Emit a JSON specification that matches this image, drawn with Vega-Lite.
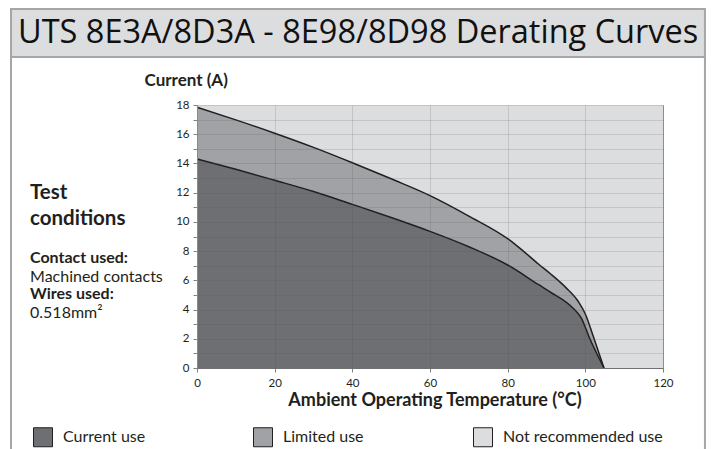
{
  "$schema": "https://vega.github.io/schema/vega-lite/v6.json",
  "width": 466,
  "height": 263,
  "autosize": {"type": "none"},
  "padding": {"left": 197, "top": 105, "right": 48, "bottom": 81},
  "background": "white",
  "config": {
    "font": "Lato",
    "view": {"stroke": "#9a9a9a", "strokeWidth": 1},
    "text": {"font": "Lato", "color": "#231f20"}
  },
  "datasets": {
    "curves": [
      {"temp": 0, "current": 18, "zone": "Not recommended use"},
      {"temp": 120, "current": 18, "zone": "Not recommended use"},
      {"temp": 0, "current": 17.85, "zone": "Limited use"},
      {"temp": 10, "current": 16.98, "zone": "Limited use"},
      {"temp": 20, "current": 16.07, "zone": "Limited use"},
      {"temp": 30, "current": 15.1, "zone": "Limited use"},
      {"temp": 40, "current": 14.05, "zone": "Limited use"},
      {"temp": 50, "current": 12.95, "zone": "Limited use"},
      {"temp": 60, "current": 11.8, "zone": "Limited use"},
      {"temp": 70, "current": 10.4, "zone": "Limited use"},
      {"temp": 80, "current": 8.85, "zone": "Limited use"},
      {"temp": 82, "current": 8.45, "zone": "Limited use"},
      {"temp": 88, "current": 7.1, "zone": "Limited use"},
      {"temp": 91, "current": 6.45, "zone": "Limited use"},
      {"temp": 95, "current": 5.5, "zone": "Limited use"},
      {"temp": 98.2, "current": 4.55, "zone": "Limited use"},
      {"temp": 100, "current": 3.7, "zone": "Limited use"},
      {"temp": 102, "current": 2.2, "zone": "Limited use"},
      {"temp": 104.8, "current": 0, "zone": "Limited use"},
      {"temp": 0, "current": 14.3, "zone": "Current use"},
      {"temp": 10, "current": 13.6, "zone": "Current use"},
      {"temp": 20, "current": 12.85, "zone": "Current use"},
      {"temp": 30, "current": 12.08, "zone": "Current use"},
      {"temp": 40, "current": 11.2, "zone": "Current use"},
      {"temp": 50, "current": 10.3, "zone": "Current use"},
      {"temp": 60, "current": 9.35, "zone": "Current use"},
      {"temp": 70, "current": 8.3, "zone": "Current use"},
      {"temp": 80, "current": 7.05, "zone": "Current use"},
      {"temp": 88, "current": 5.7, "zone": "Current use"},
      {"temp": 91, "current": 5.2, "zone": "Current use"},
      {"temp": 97, "current": 4.05, "zone": "Current use"},
      {"temp": 99, "current": 3.4, "zone": "Current use"},
      {"temp": 101, "current": 2.1, "zone": "Current use"},
      {"temp": 104.8, "current": 0, "zone": "Current use"}
    ]
  },
  "layer": [
    {
      "data": {"name": "curves"},
      "transform": [{"filter": "datum.zone === 'Not recommended use'"}],
      "mark": {"type": "area", "opacity": 1},
      "encoding": {
        "x": {
          "field": "temp", "type": "quantitative",
          "scale": {"domain": [0, 120], "nice": false, "zero": false},
          "axis": {
            "title": "Ambient Operating Temperature (°C)",
            "values": [0, 20, 40, 60, 80, 100, 120],
            "tickCount": 7,
            "zindex": 1,
            "labelFlush": false,
            "labelFontSize": 11.5, "labelColor": "#231f20", "labelPadding": 5,
            "tickSize": 4, "tickColor": "#808080",
            "domainColor": "#6f6f6f",
            "grid": true, "gridColor": "#505050", "gridOpacity": 0.17,
            "titleFontSize": 18, "titleFontWeight": "bold", "titleColor": "#231f20",
            "titleBaseline": "alphabetic", "titleAlign": "center", "titleX": 237.5, "titleY": 37
          }
        },
        "y": {
          "field": "current", "type": "quantitative",
          "scale": {"domain": [0, 18], "nice": false, "zero": false},
          "stack": null,
          "axis": {
            "title": "Current (A)",
            "values": [0,1,2,3,4,5,6,7,8,9,10,11,12,13,14,15,16,17,18],
            "tickCount": 19,
            "labelExpr": "datum.value % 2 === 0 ? datum.label : ''",
            "labelOverlap": false,
            "zindex": 1,
            "labelFlush": false,
            "labelFontSize": 11.5, "labelColor": "#231f20", "labelPadding": 4,
            "tickSize": 4, "tickColor": "#808080",
            "domainColor": "#8a8a8a",
            "grid": true, "gridColor": "#505050", "gridOpacity": 0.17,
            "titleFontSize": 17, "titleFontWeight": "bold", "titleColor": "#231f20",
            "titleAngle": 0, "titleAlign": "left", "titleBaseline": "alphabetic",
            "titleX": -53, "titleY": -20
          }
        },
        "color": {
          "field": "zone", "type": "nominal",
          "scale": {
            "domain": ["Current use", "Limited use", "Not recommended use"],
            "range": ["#6e6f72", "#a1a2a5", "#dcdddf"]
          },
          "legend": {
            "title": null,
            "orient": "none",
            "legendX": -164,
            "legendY": 322,
            "direction": "horizontal",
            "gridAlign": "all",
            "columnPadding": 28,
            "symbolType": "square",
            "symbolSize": 361,
            "symbolStrokeColor": "#231f20",
            "symbolStrokeWidth": 1,
            "symbolOpacity": 1,
            "labelFontSize": 16,
            "labelColor": "#231f20",
            "labelOffset": 10
          }
        }
      }
    },
    {
      "data": {"name": "curves"},
      "transform": [{"filter": "datum.zone === 'Limited use'"}],
      "mark": {"type": "area", "opacity": 1, "interpolate": "monotone"},
      "encoding": {
        "x": {"field": "temp", "type": "quantitative"},
        "y": {"field": "current", "type": "quantitative", "stack": null},
        "color": {"field": "zone", "type": "nominal"}
      }
    },
    {
      "data": {"name": "curves"},
      "transform": [{"filter": "datum.zone === 'Current use'"}],
      "mark": {"type": "area", "opacity": 1, "interpolate": "monotone"},
      "encoding": {
        "x": {"field": "temp", "type": "quantitative"},
        "y": {"field": "current", "type": "quantitative", "stack": null},
        "color": {"field": "zone", "type": "nominal"}
      }
    },
    {
      "data": {"name": "curves"},
      "transform": [{"filter": "datum.zone !== 'Not recommended use'"}],
      "mark": {"type": "line", "color": "#231f20", "strokeWidth": 1.5, "interpolate": "monotone"},
      "encoding": {
        "x": {"field": "temp", "type": "quantitative"},
        "y": {"field": "current", "type": "quantitative"},
        "detail": {"field": "zone", "type": "nominal"}
      }
    },
    {
      "data": {"values": [{}]},
      "mark": {"type": "rect", "fill": "#dcdddf", "stroke": "#a6a6a6", "strokeWidth": 2},
      "encoding": {
        "x": {"datum": -47.9}, "x2": {"datum": 130.8},
        "y": {"datum": 24.57}, "y2": {"datum": 21.29}
      }
    },
    {
      "data": {"values": [{}]},
      "mark": {"type": "rule", "color": "#a6a6a6", "strokeWidth": 2},
      "encoding": {"x": {"datum": -47.9}, "y": {"datum": 21.29}, "y2": {"datum": -7}}
    },
    {
      "data": {"values": [{}]},
      "mark": {"type": "rule", "color": "#a6a6a6", "strokeWidth": 2},
      "encoding": {"x": {"datum": 130.8}, "y": {"datum": 21.29}, "y2": {"datum": -7}}
    },
    {
      "data": {"values": [{}]},
      "mark": {"type": "text", "text": "UTS 8E3A/8D3A - 8E98/8D98 Derating Curves", "align": "left", "baseline": "middle", "font": "Open Sans", "fontSize": 32.5, "fontWeight": 500, "color": "#111111"},
      "encoding": {"x": {"datum": -46.1}, "y": {"datum": 22.93}}
    },
    {
      "data": {"values": [{}]},
      "mark": {"type": "text", "text": "Test", "align": "left", "baseline": "alphabetic", "fontSize": 20.5, "fontWeight": "bold"},
      "encoding": {"x": {"datum": -43}, "y": {"datum": 11.55}}
    },
    {
      "data": {"values": [{}]},
      "mark": {"type": "text", "text": "conditions", "align": "left", "baseline": "alphabetic", "fontSize": 20.5, "fontWeight": "bold"},
      "encoding": {"x": {"datum": -43}, "y": {"datum": 9.76}}
    },
    {
      "data": {"values": [{}]},
      "mark": {"type": "text", "text": "Contact used:", "align": "left", "baseline": "alphabetic", "fontSize": 16, "fontWeight": "bold"},
      "encoding": {"x": {"datum": -43}, "y": {"datum": 7.17}}
    },
    {
      "data": {"values": [{}]},
      "mark": {"type": "text", "text": "Machined contacts", "align": "left", "baseline": "alphabetic", "fontSize": 16},
      "encoding": {"x": {"datum": -43}, "y": {"datum": 5.91}}
    },
    {
      "data": {"values": [{}]},
      "mark": {"type": "text", "text": "Wires used:", "align": "left", "baseline": "alphabetic", "fontSize": 16, "fontWeight": "bold"},
      "encoding": {"x": {"datum": -43}, "y": {"datum": 4.7}}
    },
    {
      "data": {"values": [{}]},
      "mark": {"type": "text", "text": "0.518mm²", "align": "left", "baseline": "alphabetic", "fontSize": 16},
      "encoding": {"x": {"datum": -43}, "y": {"datum": 3.44}}
    }
  ]
}
